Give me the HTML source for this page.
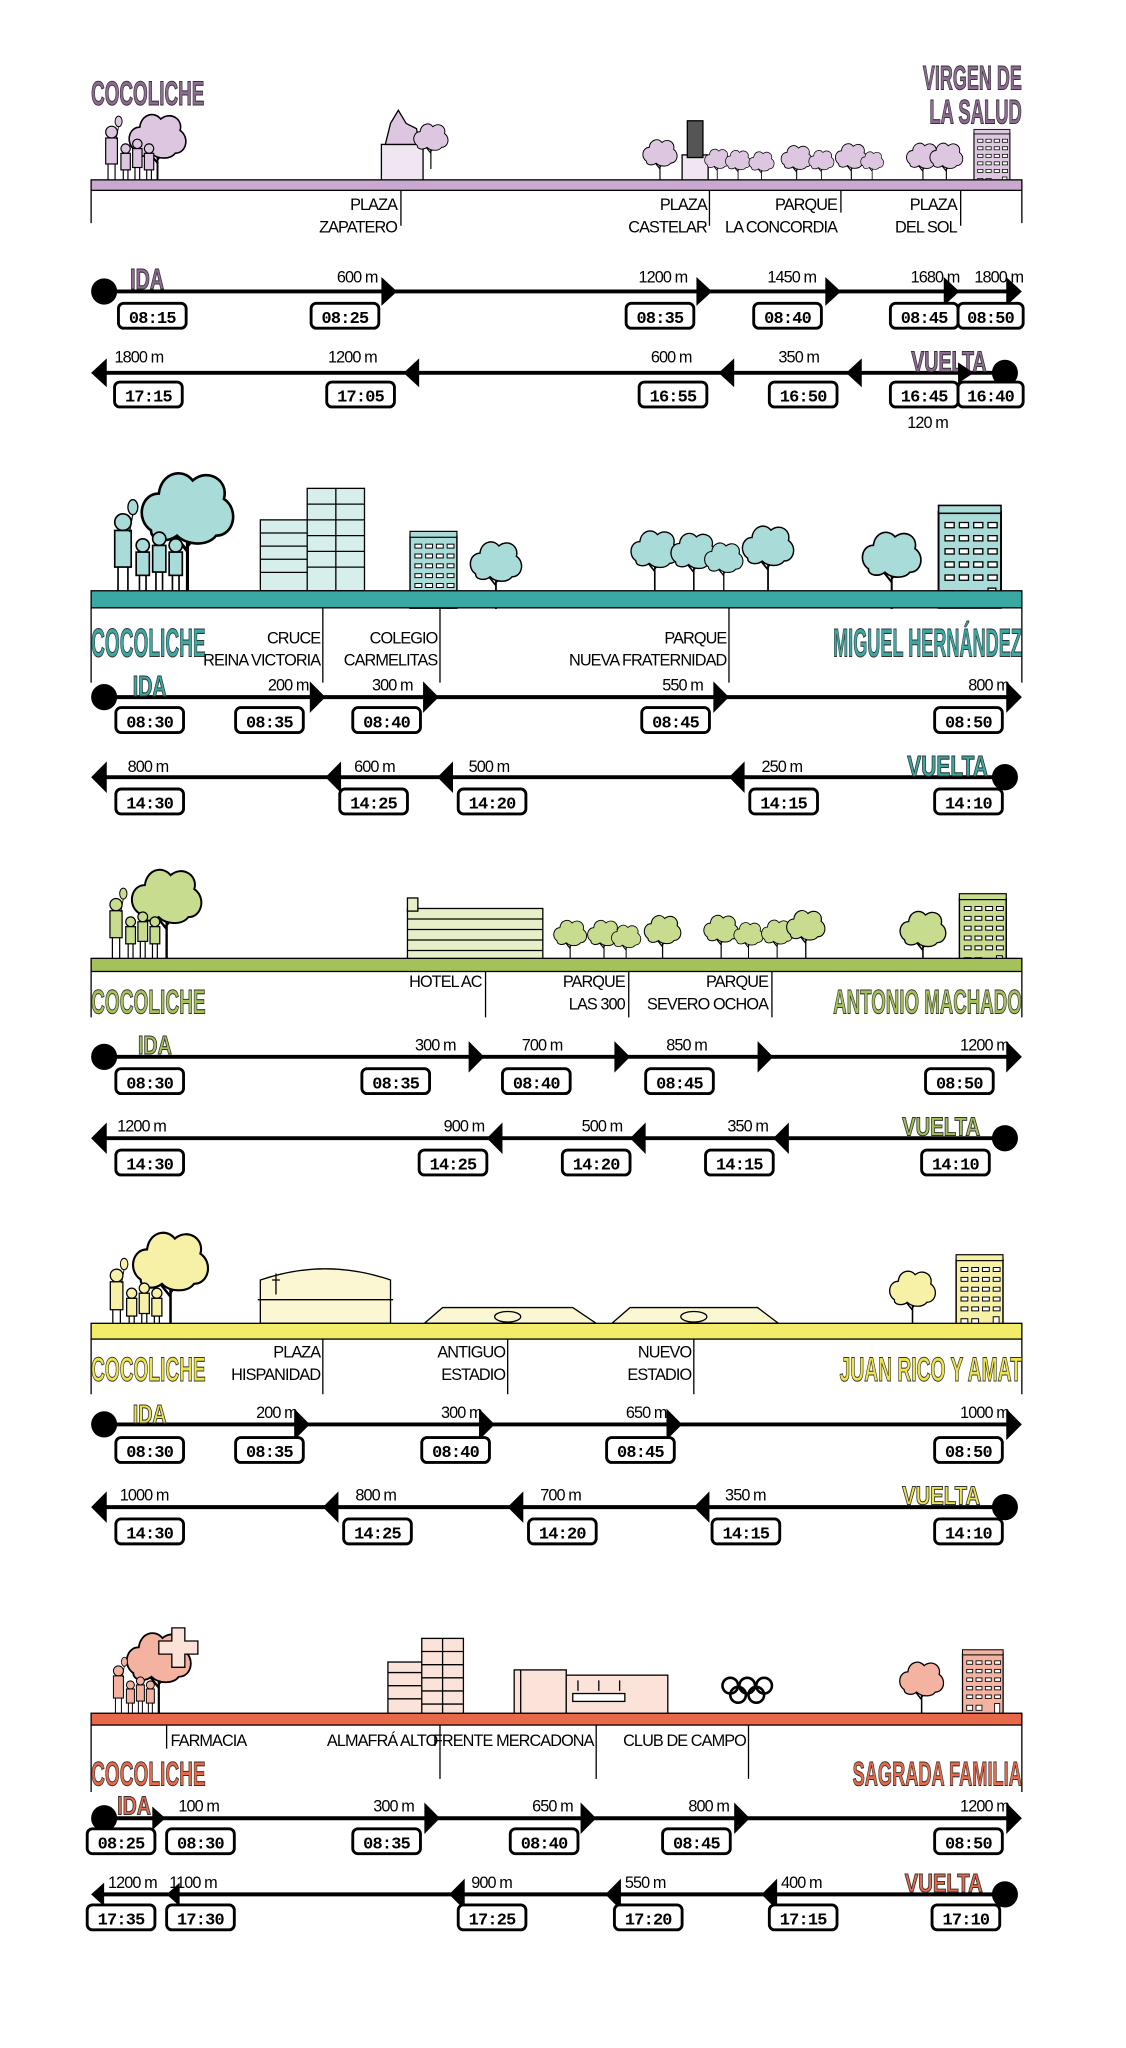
<!DOCTYPE html>
<html><head><meta charset="utf-8">
<style>
html,body{margin:0;padding:0;background:#fff;}
svg{display:block;}
.l{font-family:"Liberation Sans Narrow","Liberation Sans",sans-serif;font-size:12.5px;letter-spacing:-0.7px;fill:#000;}
.r{text-anchor:end;}
.t{font-family:"Liberation Mono",monospace;font-weight:bold;font-size:13px;letter-spacing:-0.6px;text-anchor:middle;fill:#000;}
.ti{font-family:"Liberation Sans Narrow","Liberation Sans",sans-serif;font-weight:bold;stroke:#333;stroke-width:0.8;}
.bx{fill:#fff;stroke:#000;stroke-width:2.2;}
.ln{stroke:#000;stroke-width:3;}
.tk{stroke:#000;stroke-width:1;}
</style></head><body>
<svg width="1126" height="2048" viewBox="0 0 865 1560" preserveAspectRatio="none" xmlns="http://www.w3.org/2000/svg">
<defs>
<symbol id="tree" viewBox="0 0 40 50">
<path d="M20 50 L20 28 M20 34 L12 24 M20 32 L28 22" stroke="#000" stroke-width="1.2" fill="none"/>
<path d="M6 26 C0 22 2 12 9 12 C10 4 18 2 22 7 C28 2 36 7 34 14 C40 18 38 28 31 28 C28 32 20 32 16 28 C12 31 6 30 6 26Z" fill="currentColor" stroke="#000" stroke-width="1"/>
</symbol>
<symbol id="bld" viewBox="0 0 50 80">
<rect x="1" y="6" width="48" height="73" fill="currentColor" stroke="#000" stroke-width="1.5"/>
<rect x="1" y="1" width="48" height="6" fill="currentColor" stroke="#000" stroke-width="1.2"/>
<g fill="#fff" stroke="#000" stroke-width="1">
<rect x="6" y="14" width="7" height="4"/><rect x="17" y="14" width="7" height="4"/><rect x="28" y="14" width="7" height="4"/><rect x="39" y="14" width="7" height="4"/>
<rect x="6" y="24" width="7" height="4"/><rect x="17" y="24" width="7" height="4"/><rect x="28" y="24" width="7" height="4"/><rect x="39" y="24" width="7" height="4"/>
<rect x="6" y="34" width="7" height="4"/><rect x="17" y="34" width="7" height="4"/><rect x="28" y="34" width="7" height="4"/><rect x="39" y="34" width="7" height="4"/>
<rect x="6" y="44" width="7" height="4"/><rect x="17" y="44" width="7" height="4"/><rect x="28" y="44" width="7" height="4"/><rect x="39" y="44" width="7" height="4"/>
<rect x="6" y="54" width="7" height="4"/><rect x="17" y="54" width="7" height="4"/><rect x="28" y="54" width="7" height="4"/><rect x="39" y="54" width="7" height="4"/>
<rect x="6" y="66" width="7" height="6"/><rect x="17" y="66" width="7" height="6"/><rect x="39" y="64" width="6" height="15"/>
</g>
</symbol>
<symbol id="ppl" viewBox="0 0 50 60">
<g fill="currentColor" stroke="#000" stroke-width="1">
<circle cx="8" cy="14" r="5"/><rect x="3" y="19" width="10" height="22"/><path d="M5 41 L5 58 M11 41 L11 58" fill="none"/>
<circle cx="20" cy="28" r="4"/><rect x="16" y="32" width="8" height="14"/><path d="M18 46 L18 58 M22 46 L22 58" fill="none"/>
<circle cx="30" cy="24" r="4"/><rect x="26" y="28" width="8" height="16"/><path d="M28 44 L28 58 M32 44 L32 58" fill="none"/>
<circle cx="40" cy="28" r="4"/><rect x="36" y="32" width="8" height="14"/><path d="M38 46 L38 58 M42 46 L42 58" fill="none"/>
</g>
<ellipse cx="14" cy="5" rx="3" ry="4.5" fill="currentColor" stroke="#000" stroke-width="0.8"/><path d="M14 9 L12 20" stroke="#000" stroke-width="0.7"/>
</symbol>
</defs>

<!-- ============ SECTION 1 ============ -->
<g color="#dcc6e0">
<use href="#tree" x="92" y="82" width="58" height="62"/>
<use href="#ppl" x="78" y="88" width="46" height="54"/>
<rect x="293" y="110" width="32" height="33" fill="#f0e6f2" stroke="#000"/>
<path d="M296 110 L300 94 L306 84 L312 94 L320 98 L322 110Z" fill="#dcc6e0" stroke="#000"/>
<use href="#tree" x="316" y="90" width="30" height="40"/>
<use href="#tree" x="492" y="103" width="30" height="38"/>
<rect x="524" y="118" width="20" height="24" fill="#f0e6f2" stroke="#000"/>
<rect x="528" y="92" width="12" height="28" fill="#555" stroke="#000"/>
<use href="#tree" x="540" y="108" width="22" height="34"/>
<use href="#tree" x="556" y="110" width="22" height="32"/>
<use href="#tree" x="574" y="112" width="22" height="30"/>
<use href="#tree" x="598" y="108" width="28" height="34"/>
<use href="#tree" x="620" y="110" width="22" height="32"/>
<use href="#tree" x="640" y="106" width="28" height="36"/>
<use href="#tree" x="660" y="110" width="20" height="32"/>
<use href="#tree" x="694" y="106" width="30" height="36"/>
<use href="#tree" x="712" y="106" width="30" height="36"/>
<use href="#bld" x="738" y="98" width="48" height="46"/>
</g>
<rect x="70" y="137" width="715" height="8" fill="#c9a9cf" stroke="#000" stroke-width="1"/>
<text class="ti" x="70" y="80" font-size="26" textLength="87" lengthAdjust="spacingAndGlyphs" fill="#8f6b94">COCOLICHE</text>
<text class="ti" x="709" y="68" font-size="26" textLength="76" lengthAdjust="spacingAndGlyphs" fill="#8f6b94">VIRGEN DE</text>
<text class="ti" x="714" y="94" font-size="26" textLength="71" lengthAdjust="spacingAndGlyphs" fill="#8f6b94">LA SALUD</text>
<path class="tk" d="M70 145V170M785 145V170M308 145V172M545 145V172M646 145V162M738 145V172"/>
<text class="l r" x="305" y="160">PLAZA</text><text class="l r" x="305" y="177">ZAPATERO</text>
<text class="l r" x="543" y="160">PLAZA</text><text class="l r" x="543" y="177">CASTELAR</text>
<text class="l r" x="643" y="160">PARQUE</text><text class="l r" x="643" y="177">LA CONCORDIA</text>
<text class="l r" x="735" y="160">PLAZA</text><text class="l r" x="735" y="177">DEL SOL</text>
<line class="ln" x1="80" y1="222" x2="780" y2="222"/>
<circle cx="80" cy="222" r="10"/>
<text class="ti" x="100" y="220" font-size="22" textLength="26" lengthAdjust="spacingAndGlyphs" fill="#8f6b94">IDA</text>
<g><polygon points="305,222 293,211 293,233"/><polygon points="547,222 535,211 535,233"/><polygon points="646,222 634,211 634,233"/><polygon points="737,222 725,211 725,233"/><polygon points="785,222 773,211 773,233"/></g>
<text class="l r" x="290" y="215">600 m</text><text class="l r" x="528" y="215">1200 m</text><text class="l r" x="627" y="215">1450 m</text><text class="l r" x="737" y="215">1680 m</text><text class="l r" x="786" y="215">1800 m</text>
<g><rect class="bx" x="91" y="231" width="52" height="19" rx="4"/><text class="t" x="117" y="246">08:15</text>
<rect class="bx" x="239" y="231" width="52" height="19" rx="4"/><text class="t" x="265" y="246">08:25</text>
<rect class="bx" x="481" y="231" width="52" height="19" rx="4"/><text class="t" x="507" y="246">08:35</text>
<rect class="bx" x="579" y="231" width="52" height="19" rx="4"/><text class="t" x="605" y="246">08:40</text>
<rect class="bx" x="684" y="231" width="52" height="19" rx="4"/><text class="t" x="710" y="246">08:45</text>
<rect class="bx" x="736" y="231" width="50" height="19" rx="4"/><text class="t" x="761" y="246">08:50</text></g>
<line class="ln" x1="72" y1="284" x2="772" y2="284"/>
<circle cx="772" cy="284" r="10"/>
<text class="ti" x="700" y="283" font-size="22" textLength="58" lengthAdjust="spacingAndGlyphs" fill="#8f6b94">VUELTA</text>
<g><polygon points="70,284 82,273 82,295"/><polygon points="310,284 322,273 322,295"/><polygon points="552,284 564,273 564,295"/><polygon points="650,284 662,273 662,295"/><polygon points="748,284 736,276 736,292"/></g>
<text class="l" x="88" y="276">1800 m</text><text class="l" x="252" y="276">1200 m</text><text class="l" x="500" y="276">600 m</text><text class="l" x="598" y="276">350 m</text>
<text class="l" x="697" y="326">120 m</text>
<g><rect class="bx" x="88" y="291" width="52" height="19" rx="4"/><text class="t" x="114" y="306">17:15</text>
<rect class="bx" x="251" y="291" width="52" height="19" rx="4"/><text class="t" x="277" y="306">17:05</text>
<rect class="bx" x="491" y="291" width="52" height="19" rx="4"/><text class="t" x="517" y="306">16:55</text>
<rect class="bx" x="591" y="291" width="52" height="19" rx="4"/><text class="t" x="617" y="306">16:50</text>
<rect class="bx" x="684" y="291" width="52" height="19" rx="4"/><text class="t" x="710" y="306">16:45</text>
<rect class="bx" x="736" y="291" width="50" height="19" rx="4"/><text class="t" x="761" y="306">16:40</text></g>

<!-- ============ SECTION 2 ============ -->
<g color="#a9dcd9">
<use href="#tree" x="98" y="352" width="92" height="100"/>
<use href="#ppl" x="78" y="380" width="76" height="76"/>
<rect x="200" y="396" width="50" height="54" fill="#d6efed" stroke="#000"/>
<path d="M200 406H250M200 416H250M200 426H250M200 436H250" stroke="#000" stroke-width="1"/>
<rect x="236" y="372" width="44" height="78" fill="#d6efed" stroke="#000"/>
<path d="M236 384H280M236 396H280M236 408H280M236 420H280M236 432H280M258 372V450" stroke="#000" stroke-width="1"/>
<use href="#bld" x="302" y="404" width="62" height="60"/>
<use href="#tree" x="358" y="408" width="46" height="56"/>
<use href="#tree" x="478" y="400" width="50" height="52"/>
<use href="#tree" x="510" y="402" width="46" height="50"/>
<use href="#tree" x="536" y="410" width="40" height="42"/>
<use href="#tree" x="560" y="396" width="60" height="56"/>
<use href="#tree" x="650" y="400" width="70" height="64"/>
<use href="#bld" x="705" y="384" width="80" height="80"/>
</g>
<rect x="70" y="450" width="715" height="13" fill="#3ba9a3" stroke="#000" stroke-width="1"/>
<path class="tk" d="M70 463V520M785 463V520M248 463V520M338 463V520M560 463V520"/>
<text class="ti" x="70" y="500" font-size="30" textLength="88" lengthAdjust="spacingAndGlyphs" fill="#3ba9a3">COCOLICHE</text>
<text class="ti" x="785" y="500" font-size="30" text-anchor="end" textLength="145" lengthAdjust="spacingAndGlyphs" fill="#3ba9a3">MIGUEL HERNÁNDEZ</text>
<text class="l r" x="246" y="490">CRUCE</text><text class="l r" x="246" y="507">REINA VICTORIA</text>
<text class="l r" x="336" y="490">COLEGIO</text><text class="l r" x="336" y="507">CARMELITAS</text>
<text class="l r" x="558" y="490">PARQUE</text><text class="l r" x="558" y="507">NUEVA FRATERNIDAD</text>
<line class="ln" x1="80" y1="531" x2="780" y2="531"/>
<circle cx="80" cy="531" r="10"/>
<text class="ti" x="102" y="530" font-size="22" textLength="26" lengthAdjust="spacingAndGlyphs" fill="#3ba9a3">IDA</text>
<g><polygon points="250,531 238,519 238,543"/><polygon points="337,531 325,519 325,543"/><polygon points="560,531 548,519 548,543"/><polygon points="785,531 773,519 773,543"/></g>
<text class="l r" x="237" y="526">200 m</text><text class="l r" x="317" y="526">300 m</text><text class="l r" x="540" y="526">550 m</text><text class="l r" x="775" y="526">800 m</text>
<g><rect class="bx" x="89" y="539" width="52" height="19" rx="4"/><text class="t" x="115" y="554">08:30</text>
<rect class="bx" x="181" y="539" width="52" height="19" rx="4"/><text class="t" x="207" y="554">08:35</text>
<rect class="bx" x="271" y="539" width="52" height="19" rx="4"/><text class="t" x="297" y="554">08:40</text>
<rect class="bx" x="493" y="539" width="52" height="19" rx="4"/><text class="t" x="519" y="554">08:45</text>
<rect class="bx" x="718" y="539" width="52" height="19" rx="4"/><text class="t" x="744" y="554">08:50</text></g>
<line class="ln" x1="72" y1="592" x2="772" y2="592"/>
<circle cx="772" cy="592" r="10"/>
<text class="ti" x="697" y="591" font-size="22" textLength="62" lengthAdjust="spacingAndGlyphs" fill="#3ba9a3">VUELTA</text>
<g><polygon points="70,592 82,580 82,604"/><polygon points="250,592 262,580 262,604"/><polygon points="336,592 348,580 348,604"/><polygon points="560,592 572,580 572,604"/></g>
<text class="l" x="98" y="588">800 m</text><text class="l" x="272" y="588">600 m</text><text class="l" x="360" y="588">500 m</text><text class="l" x="585" y="588">250 m</text>
<g><rect class="bx" x="89" y="601" width="52" height="19" rx="4"/><text class="t" x="115" y="616">14:30</text>
<rect class="bx" x="261" y="601" width="52" height="19" rx="4"/><text class="t" x="287" y="616">14:25</text>
<rect class="bx" x="352" y="601" width="52" height="19" rx="4"/><text class="t" x="378" y="616">14:20</text>
<rect class="bx" x="576" y="601" width="52" height="19" rx="4"/><text class="t" x="602" y="616">14:15</text>
<rect class="bx" x="718" y="601" width="52" height="19" rx="4"/><text class="t" x="744" y="616">14:10</text></g>

<!-- ============ SECTION 3 ============ -->
<g color="#c7dc8e">
<use href="#tree" x="92" y="656" width="72" height="76"/>
<use href="#ppl" x="78" y="676" width="54" height="56"/>
<rect x="313" y="692" width="104" height="40" fill="#e6efc8" stroke="#000"/>
<path d="M313 700H417M313 708H417M313 716H417M313 724H417" stroke="#000" stroke-width="1"/>
<rect x="313" y="684" width="8" height="10" fill="#e6efc8" stroke="#000"/>
<use href="#tree" x="420" y="698" width="36" height="36"/>
<use href="#tree" x="446" y="698" width="36" height="36"/>
<use href="#tree" x="466" y="702" width="30" height="32"/>
<use href="#tree" x="488" y="694" width="42" height="40"/>
<use href="#tree" x="536" y="694" width="36" height="38"/>
<use href="#tree" x="560" y="700" width="30" height="32"/>
<use href="#tree" x="580" y="698" width="34" height="34"/>
<use href="#tree" x="600" y="690" width="38" height="42"/>
<use href="#tree" x="686" y="690" width="46" height="50"/>
<use href="#bld" x="725" y="680" width="60" height="60"/>
</g>
<rect x="70" y="730" width="715" height="10" fill="#a5c25a" stroke="#000" stroke-width="1"/>
<path class="tk" d="M70 740V775M785 740V775M373 740V775M483 740V775M593 740V775"/>
<text class="ti" x="70" y="772" font-size="26" textLength="88" lengthAdjust="spacingAndGlyphs" fill="#a5c25a">COCOLICHE</text>
<text class="ti" x="785" y="772" font-size="26" text-anchor="end" textLength="145" lengthAdjust="spacingAndGlyphs" fill="#a5c25a">ANTONIO MACHADO</text>
<text class="l r" x="370" y="752">HOTEL AC</text>
<text class="l r" x="480" y="752">PARQUE</text><text class="l r" x="480" y="769">LAS 300</text>
<text class="l r" x="590" y="752">PARQUE</text><text class="l r" x="590" y="769">SEVERO OCHOA</text>
<line class="ln" x1="80" y1="805" x2="780" y2="805"/>
<circle cx="80" cy="805" r="10"/>
<text class="ti" x="106" y="803" font-size="20" textLength="26" lengthAdjust="spacingAndGlyphs" fill="#a5c25a">IDA</text>
<g><polygon points="372,805 360,793 360,817"/><polygon points="484,805 472,793 472,817"/><polygon points="594,805 582,793 582,817"/><polygon points="785,805 773,793 773,817"/></g>
<text class="l r" x="350" y="800">300 m</text><text class="l r" x="432" y="800">700 m</text><text class="l r" x="543" y="800">850 m</text><text class="l r" x="775" y="800">1200 m</text>
<g><rect class="bx" x="89" y="814" width="52" height="19" rx="4"/><text class="t" x="115" y="829">08:30</text>
<rect class="bx" x="278" y="814" width="52" height="19" rx="4"/><text class="t" x="304" y="829">08:35</text>
<rect class="bx" x="386" y="814" width="52" height="19" rx="4"/><text class="t" x="412" y="829">08:40</text>
<rect class="bx" x="496" y="814" width="52" height="19" rx="4"/><text class="t" x="522" y="829">08:45</text>
<rect class="bx" x="711" y="814" width="52" height="19" rx="4"/><text class="t" x="737" y="829">08:50</text></g>
<line class="ln" x1="72" y1="867" x2="772" y2="867"/>
<circle cx="772" cy="867" r="10"/>
<text class="ti" x="693" y="865" font-size="20" textLength="60" lengthAdjust="spacingAndGlyphs" fill="#a5c25a">VUELTA</text>
<g><polygon points="70,867 82,855 82,879"/><polygon points="374,867 386,855 386,879"/><polygon points="484,867 496,855 496,879"/><polygon points="594,867 606,855 606,879"/></g>
<text class="l" x="90" y="862">1200 m</text><text class="l r" x="372" y="862">900 m</text><text class="l r" x="478" y="862">500 m</text><text class="l r" x="590" y="862">350 m</text>
<g><rect class="bx" x="89" y="876" width="52" height="19" rx="4"/><text class="t" x="115" y="891">14:30</text>
<rect class="bx" x="322" y="876" width="52" height="19" rx="4"/><text class="t" x="348" y="891">14:25</text>
<rect class="bx" x="432" y="876" width="52" height="19" rx="4"/><text class="t" x="458" y="891">14:20</text>
<rect class="bx" x="542" y="876" width="52" height="19" rx="4"/><text class="t" x="568" y="891">14:15</text>
<rect class="bx" x="708" y="876" width="52" height="19" rx="4"/><text class="t" x="734" y="891">14:10</text></g>

<!-- ============ SECTION 4 ============ -->
<g color="#f7f1a8">
<use href="#tree" x="92" y="932" width="78" height="82"/>
<use href="#ppl" x="76" y="958" width="60" height="58"/>
<path d="M200 1008 V975 Q250 958 300 975 V1008Z" fill="#fbf7d2" stroke="#000"/>
<path d="M198 990H302" stroke="#000"/>
<path d="M212 970V986M209 975H215" stroke="#000"/>
<path d="M326 1008 L340 996 L440 996 L458 1008Z M470 1008 L484 996 L582 996 L598 1008Z" fill="#fbf7d2" stroke="#000"/>
<ellipse cx="390" cy="1003" rx="10" ry="4" fill="none" stroke="#000"/>
<ellipse cx="533" cy="1003" rx="10" ry="4" fill="none" stroke="#000"/>
<use href="#tree" x="676" y="964" width="50" height="50"/>
<use href="#bld" x="720" y="955" width="65" height="60"/>
</g>
<rect x="70" y="1008" width="715" height="12" fill="#f3ec6a" stroke="#000" stroke-width="1"/>
<path class="tk" d="M70 1020V1062M785 1020V1062M248 1020V1062M390 1020V1062M533 1020V1062"/>
<text class="ti" x="70" y="1052" font-size="26" textLength="88" lengthAdjust="spacingAndGlyphs" fill="#efe44c">COCOLICHE</text>
<text class="ti" x="785" y="1052" font-size="26" text-anchor="end" textLength="140" lengthAdjust="spacingAndGlyphs" fill="#efe44c">JUAN RICO Y AMAT</text>
<text class="l r" x="246" y="1034">PLAZA</text><text class="l r" x="246" y="1051">HISPANIDAD</text>
<text class="l r" x="388" y="1034">ANTIGUO</text><text class="l r" x="388" y="1051">ESTADIO</text>
<text class="l r" x="531" y="1034">NUEVO</text><text class="l r" x="531" y="1051">ESTADIO</text>
<line class="ln" x1="80" y1="1085" x2="780" y2="1085"/>
<circle cx="80" cy="1085" r="10"/>
<text class="ti" x="102" y="1084" font-size="20" textLength="26" lengthAdjust="spacingAndGlyphs" fill="#efe44c">IDA</text>
<g><polygon points="238,1085 226,1073 226,1097"/><polygon points="380,1085 368,1073 368,1097"/><polygon points="524,1085 512,1073 512,1097"/><polygon points="785,1085 773,1073 773,1097"/></g>
<text class="l r" x="228" y="1080">200 m</text><text class="l r" x="370" y="1080">300 m</text><text class="l r" x="512" y="1080">650 m</text><text class="l r" x="775" y="1080">1000 m</text>
<g><rect class="bx" x="89" y="1095" width="52" height="19" rx="4"/><text class="t" x="115" y="1110">08:30</text>
<rect class="bx" x="181" y="1095" width="52" height="19" rx="4"/><text class="t" x="207" y="1110">08:35</text>
<rect class="bx" x="324" y="1095" width="52" height="19" rx="4"/><text class="t" x="350" y="1110">08:40</text>
<rect class="bx" x="466" y="1095" width="52" height="19" rx="4"/><text class="t" x="492" y="1110">08:45</text>
<rect class="bx" x="718" y="1095" width="52" height="19" rx="4"/><text class="t" x="744" y="1110">08:50</text></g>
<line class="ln" x1="72" y1="1148" x2="772" y2="1148"/>
<circle cx="772" cy="1148" r="10"/>
<text class="ti" x="693" y="1146" font-size="20" textLength="60" lengthAdjust="spacingAndGlyphs" fill="#efe44c">VUELTA</text>
<g><polygon points="70,1148 82,1136 82,1160"/><polygon points="248,1148 260,1136 260,1160"/><polygon points="390,1148 402,1136 402,1160"/><polygon points="533,1148 545,1136 545,1160"/></g>
<text class="l" x="92" y="1143">1000 m</text><text class="l" x="273" y="1143">800 m</text><text class="l" x="415" y="1143">700 m</text><text class="l" x="557" y="1143">350 m</text>
<g><rect class="bx" x="89" y="1157" width="52" height="19" rx="4"/><text class="t" x="115" y="1172">14:30</text>
<rect class="bx" x="264" y="1157" width="52" height="19" rx="4"/><text class="t" x="290" y="1172">14:25</text>
<rect class="bx" x="406" y="1157" width="52" height="19" rx="4"/><text class="t" x="432" y="1172">14:20</text>
<rect class="bx" x="547" y="1157" width="52" height="19" rx="4"/><text class="t" x="573" y="1172">14:15</text>
<rect class="bx" x="718" y="1157" width="52" height="19" rx="4"/><text class="t" x="744" y="1172">14:10</text></g>

<!-- ============ SECTION 5 ============ -->
<g color="#f3b3a0">
<use href="#tree" x="90" y="1238" width="64" height="70"/>
<path d="M122 1250h10v-10h10v10h10v10h-10v10h-10v-10h-10z" fill="#fbe3da" stroke="#000"/>
<use href="#ppl" x="76" y="1262" width="56" height="46"/>
<rect x="298" y="1266" width="36" height="40" fill="#fbe3da" stroke="#000"/>
<path d="M298 1274H334M298 1284H334M298 1294H334" stroke="#000"/>
<rect x="324" y="1248" width="32" height="58" fill="#fbe3da" stroke="#000"/>
<path d="M324 1258H356M324 1268H356M324 1278H356M324 1288H356M324 1298H356M340 1248V1306" stroke="#000"/>
<rect x="395" y="1272" width="40" height="34" fill="#fbe3da" stroke="#000"/>
<rect x="435" y="1276" width="78" height="30" fill="#fbe3da" stroke="#000"/>
<rect x="440" y="1290" width="40" height="6" fill="#fff" stroke="#000"/>
<path d="M400 1272V1306M444 1280V1288M460 1280V1288M476 1280V1288" stroke="#000"/>
<g fill="none" stroke="#000" stroke-width="2"><circle cx="561" cy="1284" r="6"/><circle cx="574" cy="1284" r="6"/><circle cx="587" cy="1284" r="6"/><circle cx="567" cy="1291" r="6"/><circle cx="581" cy="1291" r="6"/></g>
<use href="#tree" x="684" y="1262" width="48" height="48"/>
<use href="#bld" x="725" y="1256" width="60" height="52"/>
</g>
<rect x="70" y="1305" width="715" height="9" fill="#e8694a" stroke="#000" stroke-width="1"/>
<path class="tk" d="M70 1314V1365M785 1314V1365M128 1314V1332M338 1314V1355M458 1314V1355M575 1314V1355"/>
<text class="l" x="131" y="1330">FARMACIA</text>
<text class="l r" x="336" y="1330">ALMAFRÁ ALTO</text>
<text class="l r" x="456" y="1330">FRENTE MERCADONA</text>
<text class="l r" x="573" y="1330">CLUB DE CAMPO</text>
<text class="ti" x="70" y="1360" font-size="26" textLength="88" lengthAdjust="spacingAndGlyphs" fill="#e8694a">COCOLICHE</text>
<text class="ti" x="785" y="1360" font-size="26" text-anchor="end" textLength="130" lengthAdjust="spacingAndGlyphs" fill="#e8694a">SAGRADA FAMILIA</text>
<line class="ln" x1="80" y1="1385" x2="780" y2="1385"/>
<circle cx="80" cy="1385" r="10"/>
<text class="ti" x="90" y="1382" font-size="20" textLength="26" lengthAdjust="spacingAndGlyphs" fill="#e8694a">IDA</text>
<g><polygon points="127,1385 117,1376 117,1394"/><polygon points="338,1385 326,1373 326,1397"/><polygon points="458,1385 446,1373 446,1397"/><polygon points="576,1385 564,1373 564,1397"/><polygon points="785,1385 773,1373 773,1397"/></g>
<text class="l" x="137" y="1380">100 m</text><text class="l r" x="318" y="1380">300 m</text><text class="l r" x="440" y="1380">650 m</text><text class="l r" x="560" y="1380">800 m</text><text class="l r" x="775" y="1380">1200 m</text>
<g><rect class="bx" x="67" y="1393" width="52" height="19" rx="4"/><text class="t" x="93" y="1408">08:25</text>
<rect class="bx" x="128" y="1393" width="52" height="19" rx="4"/><text class="t" x="154" y="1408">08:30</text>
<rect class="bx" x="271" y="1393" width="52" height="19" rx="4"/><text class="t" x="297" y="1408">08:35</text>
<rect class="bx" x="392" y="1393" width="52" height="19" rx="4"/><text class="t" x="418" y="1408">08:40</text>
<rect class="bx" x="509" y="1393" width="52" height="19" rx="4"/><text class="t" x="535" y="1408">08:45</text>
<rect class="bx" x="718" y="1393" width="52" height="19" rx="4"/><text class="t" x="744" y="1408">08:50</text></g>
<line class="ln" x1="72" y1="1443" x2="772" y2="1443"/>
<circle cx="772" cy="1443" r="10"/>
<text class="ti" x="695" y="1441" font-size="20" textLength="60" lengthAdjust="spacingAndGlyphs" fill="#e8694a">VUELTA</text>
<g><polygon points="70,1443 80,1434 80,1452"/><polygon points="128,1443 138,1434 138,1452"/><polygon points="345,1443 357,1431 357,1455"/><polygon points="465,1443 477,1431 477,1455"/><polygon points="585,1443 597,1431 597,1455"/></g>
<text class="l" x="83" y="1438">1200 m</text><text class="l" x="130" y="1438">1100 m</text><text class="l" x="362" y="1438">900 m</text><text class="l" x="480" y="1438">550 m</text><text class="l" x="600" y="1438">400 m</text>
<g><rect class="bx" x="67" y="1451" width="52" height="19" rx="4"/><text class="t" x="93" y="1466">17:35</text>
<rect class="bx" x="128" y="1451" width="52" height="19" rx="4"/><text class="t" x="154" y="1466">17:30</text>
<rect class="bx" x="352" y="1451" width="52" height="19" rx="4"/><text class="t" x="378" y="1466">17:25</text>
<rect class="bx" x="472" y="1451" width="52" height="19" rx="4"/><text class="t" x="498" y="1466">17:20</text>
<rect class="bx" x="591" y="1451" width="52" height="19" rx="4"/><text class="t" x="617" y="1466">17:15</text>
<rect class="bx" x="716" y="1451" width="52" height="19" rx="4"/><text class="t" x="742" y="1466">17:10</text></g>
</svg>
</body></html>
